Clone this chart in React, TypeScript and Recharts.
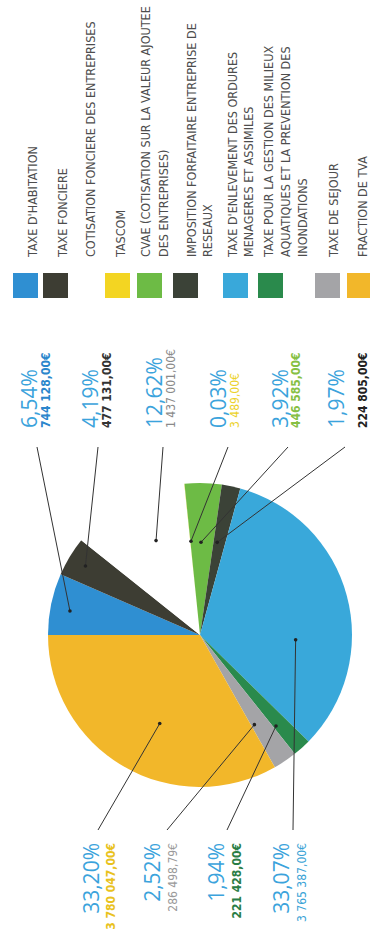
import React from 'react';
import { PieChart, Pie, Cell } from 'recharts';

// ---- data (legend order) ----
const categories = [
  "TAXE D'HABITATION",
  'TAXE FONCIERE',
  'COTISATION FONCIERE DES ENTREPRISES',
  'TASCOM',
  'CVAE (COTISATION SUR LA VALEUR AJOUTEE DES ENTREPRISES)',
  'IMPOSITION FORFAITAIRE ENTREPRISE DE RESEAUX',
  "TAXE D'ENLEVEMENT DES ORDURES MENAGERES ET ASSIMILES",
  'TAXE POUR LA GESTION DES MILIEUX AQUATIQUES ET LA PREVENTION DES INONDATIONS',
  'TAXE DE SEJOUR',
  'FRACTION DE TVA',
];
const amounts = [744128.0, 477131.0, 1437001.0, 3489.0, 446585.0, 224805.0, 3765387.0, 221428.0, 286498.79, 3780047.0];
const legendLines = [
  ["TAXE D'HABITATION"],
  ['TAXE FONCIERE'],
  ['COTISATION FONCIERE DES ENTREPRISES'],
  ['TASCOM'],
  ['CVAE (COTISATION SUR LA VALEUR AJOUTEE', 'DES ENTREPRISES)'],
  ['IMPOSITION FORFAITAIRE ENTREPRISE DE', 'RESEAUX'],
  ["TAXE D'ENLEVEMENT DES ORDURES", 'MENAGERES ET ASSIMILES'],
  ['TAXE POUR LA GESTION DES MILIEUX', 'AQUATIQUES ET LA PREVENTION DES', 'INONDATIONS'],
  ['TAXE DE SEJOUR'],
  ['FRACTION DE TVA'],
];

// ---- styles ----
const sliceColors = ['#2f8fd2', '#3d3d33', '#ffffff', '#f3d522', '#6dbb45', '#3b4237', '#39a8da', '#2a8a4c', '#a4a4a7', '#f2b72a'];
const amountColors = ['#2b86cc', '#333333', '#8a8a8a', '#ecd22a', '#86c043', '#222222', '#3aa3d6', '#2a7d45', '#9a9a9a', '#e9c21e'];
const amountWeights = [700, 700, 400, 400, 700, 700, 400, 700, 400, 700];
const pctColor = '#3ba3dc';

// label layout (upright frame): side, pct baseline, amount baseline, leader end y, dot radius fraction, dot angle offset
const labelLayout = [
  { side: 'top', py: 37, vy: 50, ly: 37, rf: 0.87, da: 1.3 },
  { side: 'top', py: 98, vy: 111, ly: 98, rf: 0.88, da: 0 },
  { side: 'top', py: 162, vy: 175, ly: 163, rf: 0.685, da: -3.7 },
  { side: 'top', py: 226, vy: 239, ly: 228, rf: 0.62, da: -0.4 },
  { side: 'top', py: 288, vy: 300, ly: 288, rf: 0.61, da: 0.6 },
  { side: 'top', py: 344, vy: 367, ly: 345, rf: 0.62, da: 1.3 },
  { side: 'bottom', py: 289, vy: 306, ly: 293, rf: 0.63, da: -18 },
  { side: 'bottom', py: 224, vy: 241, ly: 227, rf: 0.78, da: -2.2 },
  { side: 'bottom', py: 160, vy: 177, ly: 167, rf: 0.69, da: -2.8 },
  { side: 'bottom', py: 99, vy: 115, ly: 98, rf: 0.64, da: 5.8 },
];
const legendSwatchY = [13, 43, 75, 105, 137, 173, 223, 258, 315, 347];
const legendBaselines = [[37], [67], [95], [125], [150, 168], [196, 212], [237, 253], [273, 290, 307], [338], [367]];

const total = amounts.reduce((s, v) => s + v, 0);
const fmtPct = (v: number) => ((v / total) * 100).toFixed(2).replace('.', ',') + '%';
const fmtAmt = (v: number) => {
  const [i, d] = v.toFixed(2).split('.');
  return i.replace(/\B(?=(\d{3})+(?!\d))/g, ' ') + ',' + d + '€';
};

const data = categories.map((name, i) => ({ name, value: amounts[i] }));

const RAD = Math.PI / 180;
const PCT_FONT = "'Open Sans', 'Noto Sans', sans-serif";
const NARROW = "'Liberation Sans Narrow', 'DejaVu Sans Condensed', 'Open Sans', sans-serif";

function renderLabel(props: any) {
  const { cx, cy, midAngle, outerRadius, index } = props;
  const L = labelLayout[index];
  const a = (midAngle + L.da) * RAD;
  const r = outerRadius * L.rf;
  const px = cx + r * Math.cos(a);
  const py = cy - r * Math.sin(a);
  const top = L.side === 'top';
  const tx = top ? 513 : 98;
  const lx = top ? 494 : 111;
  const anchor = top ? 'start' : 'end';
  return (
    <g key={`lbl-${index}`}>
      <line x1={px} y1={py} x2={lx} y2={L.ly} stroke="#333" strokeWidth={1} />
      <circle cx={px} cy={py} r={1.8} fill="#222" />
      <text x={tx} y={L.py} textAnchor={anchor} fill={pctColor} fontFamily={PCT_FONT} fontWeight={400} fontSize={21}>
        {fmtPct(amounts[index])}
      </text>
      <text x={tx} y={L.vy} textAnchor={anchor} fill={amountColors[index]} fontFamily={NARROW} fontWeight={amountWeights[index]} fontSize={12}>
        {fmtAmt(amounts[index])}
      </text>
    </g>
  );
}

function LegendBlock() {
  return (
    <svg width={941} height={370} style={{ position: 'absolute', left: 0, top: 0 }}>
      {categories.map((c, i) => (
        <g key={c}>
          <rect x={643} y={legendSwatchY[i]} width={25} height={25} fill={sliceColors[i]} />
          {legendLines[i].map((ln, j) => (
            <text key={j} x={684} y={legendBaselines[i][j]} fontFamily={NARROW} fontSize={12.5} fill="#4d4d4d">
              {ln}
            </text>
          ))}
        </g>
      ))}
    </svg>
  );
}

export default function App() {
  return (
    <div style={{ position: 'absolute', left: 0, top: 0, width: 370, height: 941, overflow: 'hidden', background: '#fff' }}>
      <div
        style={{
          position: 'absolute',
          left: 0,
          top: 0,
          width: 941,
          height: 370,
          transformOrigin: '0 0',
          transform: 'translateY(941px) rotate(-90deg)',
        }}
      >
        <PieChart width={941} height={370} margin={{ top: 0, right: 0, bottom: 0, left: 0 }}>
          <Pie
            data={data}
            dataKey="value"
            nameKey="name"
            cx={306}
            cy={200}
            outerRadius={152}
            startAngle={90}
            endAngle={-270}
            stroke="none"
            label={renderLabel}
            labelLine={false}
            isAnimationActive={false}
          >
            {data.map((d, i) => (
              <Cell key={d.name} fill={sliceColors[i]} />
            ))}
          </Pie>
        </PieChart>
        <LegendBlock />
      </div>
    </div>
  );
}
